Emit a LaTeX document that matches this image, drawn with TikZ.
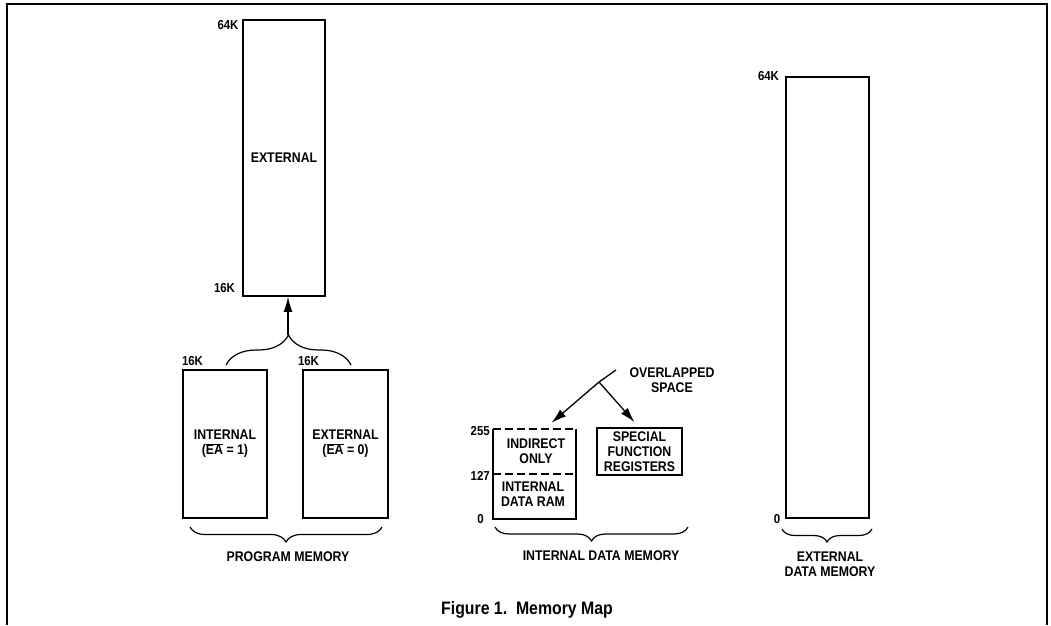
\documentclass[tikz,border=0pt]{standalone}
\usepackage{fontspec}
\setmainfont{Liberation Sans}[FakeStretch=0.88]
\usetikzlibrary{arrows.meta,decorations.pathreplacing}
\begin{document}
\begin{tikzpicture}[x=1pt,y=-1pt,
  every node/.style={font=\bfseries\fontsize{14}{15}\selectfont, inner sep=0pt, align=center},
  membox/.style={draw, line width=1.8pt},
  lbl/.style={font=\bfseries\fontsize{13}{14}\selectfont},
  brc/.style={decorate, decoration={brace, amplitude=15pt}, line width=1.2pt},
  arr/.style={line width=1.3pt, -{Latex[length=15pt,width=9pt]}},
  dsh/.style={line width=1.8pt, dash pattern=on 8pt off 4pt}
]
\useasboundingbox (0,0) rectangle (1051,625);
% frame
\draw[line width=1.3pt] (7,625) -- (7,4) -- (1047,4) -- (1047,625);

% program memory
\node[membox, minimum width=82pt, minimum height=276pt] (ext) at (284,158) {EXTERNAL};
\node[membox, minimum width=84pt, minimum height=148pt] (int) at (225,444) {INTERNAL\\(\(\overline{\hbox{EA}}\) = 1)};
\node[membox, minimum width=85pt, minimum height=148pt] (ext0) at (345.5,444) {EXTERNAL\\(\(\overline{\hbox{EA}}\) = 0)};
\node[lbl] (l64a) at (228,25) {64K};
\node[lbl] (l16a) at (224.5,288) {16K};
\node[lbl] (l16b) at (192.5,361) {16K};
\node[lbl] (l16c) at (308.5,361) {16K};
\draw[brc, decoration={brace, amplitude=30pt}] (226,365) -- (351,365);
\coordinate (ptip) at (288,335);
\draw[arr] (ptip) -- (ptip |- ext.south);
\draw[brc] (382,527) -- (190,527);
\node (pm) at (288,557) {PROGRAM MEMORY};

% internal data memory
\node[minimum width=83pt, minimum height=90pt] (ram) at (534.5,474) {};
\draw[line width=1.8pt] (ram.north west) -- (ram.south west) -- (ram.south east) -- (ram.north east);
\draw[dsh] (ram.north west) -- (ram.north east);
\draw[dsh] (ram.west) -- (ram.east);
\node (ind) at (536,451) {INDIRECT\\ONLY};
\node (dram) at (533,494) {INTERNAL\\DATA RAM};
\node[membox, minimum width=85pt, minimum height=47pt] (sfr) at (639.5,451.5) {SPECIAL\\FUNCTION\\REGISTERS};
\node[lbl, anchor=east] (l255) at (490,431) {255};
\node[lbl, anchor=east] (l127) at (490,476) {127};
\node[lbl, anchor=east] (l0a) at (484,519) {0};
\node (ovl) at (672,380) {OVERLAPPED\\SPACE};
\coordinate (ovs) at (616,370);
\coordinate (ovj) at (599,382);
\draw[line width=1.3pt] (ovs) -- (ovj);
\draw[arr] (ovj) -- ([xshift=17pt,yshift=6pt]ram.north);
\draw[arr] (ovj) -- ([xshift=-5pt,yshift=5pt]sfr.north);
\draw[brc, decoration={brace, amplitude=14pt}] (688,527) -- (495,527);
\node (idm) at (601,556) {INTERNAL DATA MEMORY};

% external data memory
\node[membox, minimum width=83pt, minimum height=441pt] (edm) at (827.5,297.5) {};
\node[lbl] (l64b) at (768.5,76) {64K};
\node[lbl] (l0b) at (777,519) {0};
\draw[brc, decoration={brace, amplitude=13pt}] (872,529) -- (782,529);
\node (edml) at (830,564.5) {EXTERNAL\\DATA MEMORY};

% caption
\node[font=\bfseries\fontsize{18}{20}\selectfont] (cap) at (527,610) {Figure 1.\ \ Memory Map};
\end{tikzpicture}
\end{document}
